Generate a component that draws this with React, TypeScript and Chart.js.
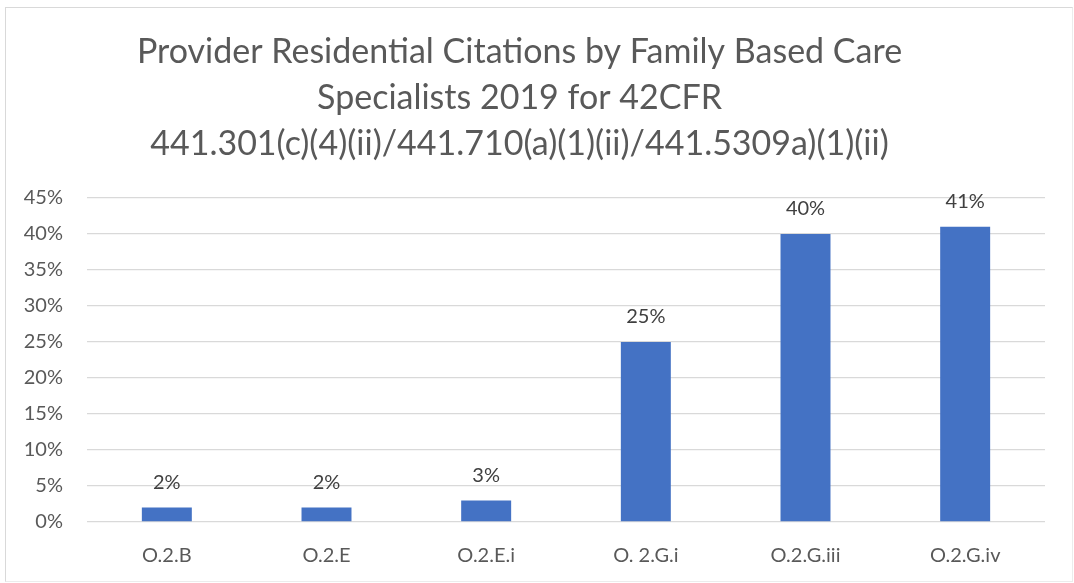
import React, { useEffect, useRef } from "react";
import { Chart, registerables } from "chart.js";

Chart.register(...registerables);

const titleLines = [
  "Provider Residential Citations by Family Based Care",
  "Specialists 2019 for 42CFR",
  "441.301(c)(4)(ii)/441.710(a)(1)(ii)/441.5309a)(1)(ii)",
];
const categories = ["O.2.B", "O.2.E", "O.2.E.i", "O. 2.G.i", "O.2.G.iii", "O.2.G.iv"];
const values = [2, 2, 3, 25, 40, 41];
const yMax = 45;
const yStep = 5;

const FONT = "Lato, 'Open Sans', sans-serif";

const dataLabelPlugin = {
  id: "dataLabels",
  afterDatasetsDraw(chart: any) {
    const ctx = chart.ctx;
    const meta = chart.getDatasetMeta(0);
    ctx.save();
    ctx.fillStyle = "#404040";
    ctx.font = `20px ${FONT}`;
    ctx.textAlign = "center";
    ctx.textBaseline = "middle";
    meta.data.forEach((bar: any, i: number) => {
      ctx.fillText(values[i] + "%", bar.x, bar.y - 25);
    });
    ctx.restore();
  },
};

export default function App() {
  const ref = useRef<HTMLCanvasElement>(null);
  useEffect(() => {
    if (!ref.current) return;
    const chart = new Chart(ref.current, {
      type: "bar",
      data: {
        labels: categories,
        datasets: [
          {
            data: values,
            backgroundColor: "#4472C4",
            borderWidth: 0,
            barPercentage: 0.626,
            categoryPercentage: 0.5,
          },
        ],
      },
      options: {
        animation: false,
        responsive: false,
        maintainAspectRatio: false,
        layout: { padding: { left: -12, right: 27, top: 0, bottom: 0 } },
        plugins: {
          legend: { display: false },
          tooltip: { enabled: false },
          title: {
            display: true,
            text: titleLines,
            color: "#595959",
            font: { family: FONT, size: 34, weight: "normal", lineHeight: 46 / 34 },
            padding: { top: 21, bottom: 31 },
          },
        },
        scales: {
          x: {
            afterFit: (scale: any) => {
              scale.height = 59;
            },
            grid: { display: false, drawTicks: false },
            border: { display: false },
            ticks: {
              color: "#595959",
              font: { family: FONT, size: 20 },
              padding: 22,
              maxRotation: 0,
              autoSkip: false,
            },
          },
          y: {
            min: 0,
            max: yMax,
            afterFit: (scale: any) => {
              scale.width = 93;
            },
            grid: { color: "#d9d9d9", lineWidth: 1.3, drawTicks: false },
            border: { display: false },
            ticks: {
              stepSize: yStep,
              color: "#595959",
              font: { family: FONT, size: 20 },
              padding: 24,
              callback: (v: any) => v + "%",
            },
          },
        },
      },
      plugins: [dataLabelPlugin],
    });
    return () => chart.destroy();
  }, []);

  return (
    <div
      style={{
        position: "absolute",
        left: 5,
        top: 7,
        width: 1066,
        height: 573,
        borderTop: "1px solid #d9d9d9",
        borderLeft: "1px solid #d9d9d9",
        borderRight: "1px solid #ececec",
        borderBottom: "1px solid #ececec",
        background: "#fff",
      }}
    >
      <canvas ref={ref} width={1066} height={573} style={{ display: "block" }} />
    </div>
  );
}
